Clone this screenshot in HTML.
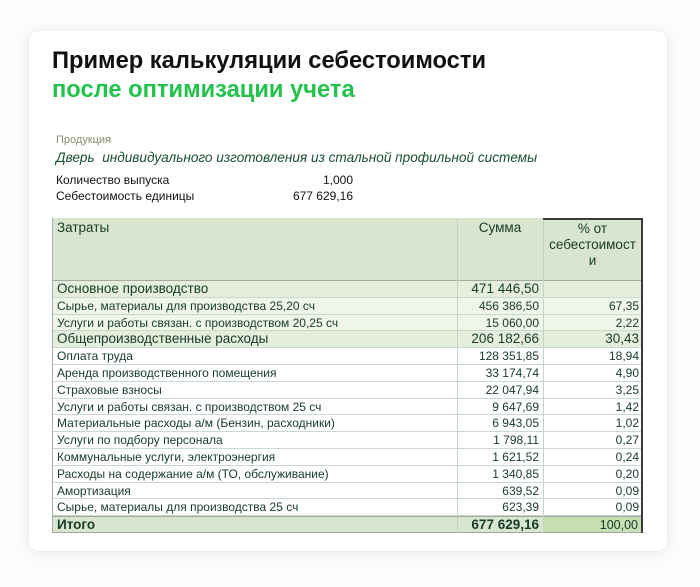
<!DOCTYPE html>
<html><head><meta charset="utf-8">
<style>
*{margin:0;padding:0;box-sizing:border-box}
html,body{width:700px;height:587px;background:#fcfcfc;overflow:hidden;font-family:"Liberation Sans",Arial,sans-serif}
.card{position:absolute;left:29px;top:31px;width:638px;height:520px;background:#fff;border-radius:10px;box-shadow:0 2px 14px rgba(0,0,0,0.08),0 0 2px rgba(0,0,0,0.05)}
.a{position:absolute;white-space:nowrap}
.t1{left:52px;top:48px;font-size:23.7px;line-height:27px;font-weight:bold;color:#111}
.t2{left:52px;top:77px;font-size:23.7px;line-height:27px;font-weight:bold;color:#22c24c}
.prod{left:56px;top:134px;font-size:11px;line-height:12px;color:#8b8a6c}
.it{left:56px;top:149px;font-size:13.6px;line-height:17px;font-style:italic;color:#1a4f32}
.kv{font-size:12px;line-height:14px;color:#111}
.tbl{position:absolute;left:52px;top:218px;width:591px;height:315px}
.hdr{position:absolute;left:0;top:0;width:591px;height:63px;background:#d9e5cf;border-bottom:1px solid #a4aaa4}
.row{position:absolute;left:0;width:591px;height:16.8px;border-bottom:1px solid #c9dacd;color:#163b28;font-size:12px;line-height:16.8px}
.row div{position:absolute;top:0;height:100%;white-space:nowrap}
.c1{left:5px}
.c2{right:104px;text-align:right}
.c3{right:4px;text-align:right}
.g{background:#e5eedb;font-size:13.5px}
.l{background:#eff5e9}
.w{background:#fff}
.tot{background:#d9e5cf;font-weight:bold;font-size:13.5px;border-top:1px solid #a0a6a0;border-bottom:1px solid #a0a6a0}
.vl{position:absolute;top:0;width:1px;height:315px;background:#c3d3c7}
.h{position:absolute;font-size:13.5px;line-height:16px;color:#163b28;white-space:nowrap}
</style></head><body>
<div class="card"></div>
<div class="a t1">Пример калькуляции себестоимости</div>
<div class="a t2">после оптимизации учета</div>
<div class="a prod">Продукция</div>
<div class="a it">Дверь&nbsp; индивидуального изготовления из стальной профильной системы</div>
<div class="a kv" style="left:56px;top:172.5px">Количество выпуска</div>
<div class="a kv" style="left:253px;top:172.5px;width:100px;text-align:right">1,000</div>
<div class="a kv" style="left:56px;top:188.5px">Себестоимость единицы</div>
<div class="a kv" style="left:253px;top:188.5px;width:100px;text-align:right">677 629,16</div>

<div class="tbl">
  <div class="hdr"></div>
  <div class="h" style="left:5px;top:2px">Затраты</div>
  <div class="h" style="left:405px;width:86px;top:2px;text-align:center">Сумма</div>
  <div class="h" style="left:491px;width:99px;top:3px;text-align:center">% от<br>себестоимост<br>и</div>

  <div class="row g" style="top:63px"><div class="c1">Основное производство</div><div class="c2">471 446,50</div><div class="c3"></div></div>
  <div class="row l" style="top:79.8px"><div class="c1">Сырье, материалы для производства 25,20 сч</div><div class="c2">456 386,50</div><div class="c3">67,35</div></div>
  <div class="row l" style="top:96.6px"><div class="c1">Услуги и работы связан. с производством 20,25 сч</div><div class="c2">15 060,00</div><div class="c3">2,22</div></div>
  <div class="row g" style="top:113.4px"><div class="c1">Общепроизводственные расходы</div><div class="c2">206 182,66</div><div class="c3">30,43</div></div>
  <div class="row w" style="top:130.2px"><div class="c1">Оплата труда</div><div class="c2">128 351,85</div><div class="c3">18,94</div></div>
  <div class="row w" style="top:147px"><div class="c1">Аренда производственного помещения</div><div class="c2">33 174,74</div><div class="c3">4,90</div></div>
  <div class="row w" style="top:163.8px"><div class="c1">Страховые взносы</div><div class="c2">22 047,94</div><div class="c3">3,25</div></div>
  <div class="row w" style="top:180.6px"><div class="c1">Услуги и работы связан. с производством 25 сч</div><div class="c2">9 647,69</div><div class="c3">1,42</div></div>
  <div class="row w" style="top:197.4px"><div class="c1">Материальные расходы а/м (Бензин, расходники)</div><div class="c2">6 943,05</div><div class="c3">1,02</div></div>
  <div class="row w" style="top:214.2px"><div class="c1">Услуги по подбору персонала</div><div class="c2">1 798,11</div><div class="c3">0,27</div></div>
  <div class="row w" style="top:231px"><div class="c1">Коммунальные услуги, электроэнергия</div><div class="c2">1 621,52</div><div class="c3">0,24</div></div>
  <div class="row w" style="top:247.8px"><div class="c1">Расходы на содержание а/м (ТО, обслуживание)</div><div class="c2">1 340,85</div><div class="c3">0,20</div></div>
  <div class="row w" style="top:264.6px"><div class="c1">Амортизация</div><div class="c2">639,52</div><div class="c3">0,09</div></div>
  <div class="row w" style="top:281.4px"><div class="c1">Сырье, материалы для производства 25 сч</div><div class="c2">623,39</div><div class="c3">0,09</div></div>
  <div class="row tot" style="top:297.5px;height:17.5px;line-height:16px"><div class="c1">Итого</div><div class="c2">677 629,16</div><div class="c3" style="right:0;left:491px;width:99px;background:#c6e0b4;font-weight:normal;padding-right:4px;font-size:12.5px">100,00</div></div>

  <div class="vl" style="left:0;background:#a8b0a8"></div>
  <div class="vl" style="left:405px"></div>
  <div class="vl" style="left:491px"></div>
  <div style="position:absolute;left:491px;top:0;width:100px;height:2px;background:#3a3a3a"></div>
  <div style="position:absolute;left:589px;top:0;width:2px;height:315px;background:#3a3a3a"></div>
</div>
</body></html>
